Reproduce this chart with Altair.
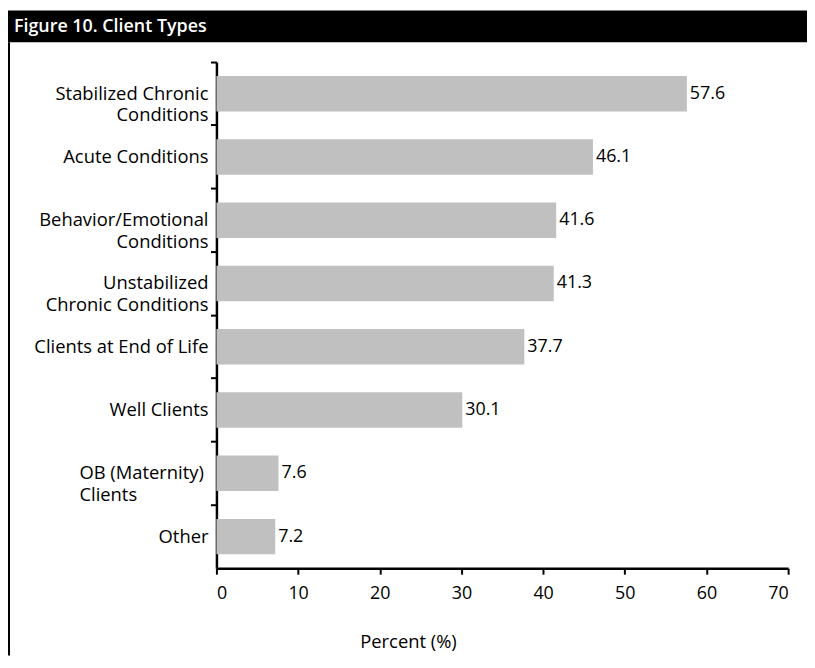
import altair as alt
import pandas as pd

categories = [
    "Stabilized Chronic\nConditions",
    "Acute Conditions",
    "Behavior/Emotional\nConditions",
    "Unstabilized\nChronic Conditions",
    "Clients at End of Life",
    "Well Clients",
    "OB (Maternity)\nClients",
    "Other",
]
values = [57.6, 46.1, 41.6, 41.3, 37.7, 30.1, 7.6, 7.2]
x_ticks = [0, 10, 20, 30, 40, 50, 60, 70]
title_text = "Figure 10. Client Types"
x_title = "Percent (%)"

FONT = "Open Sans"
FS = 18
FS_CAT = 18.5
W, H = 576, 510
PAD_L, PAD_T = 210, 52
SVG_W, SVG_H = 805, 650

df = pd.DataFrame({"category": categories, "value": values})

y_enc = alt.Y(
    "category:N",
    sort=None,
    scale=alt.Scale(paddingInner=0, paddingOuter=0),
    axis=alt.Axis(
        title=None,
        labels=False,
        bandPosition=0,
        tickSize=6,
        tickWidth=2,
        tickColor="black",
        domainColor="black",
        domainWidth=2.5,
        grid=False,
    ),
)
x_enc = alt.X(
    "value:Q",
    scale=alt.Scale(domain=[0, 70], nice=False),
    axis=alt.Axis(
        values=x_ticks,
        title=x_title,
        titleFont=FONT,
        titleFontSize=FS_CAT,
        titleFontWeight="normal",
        titleColor="black",
        titleX=193,
        titleY=80,
        titleAnchor="start",
        titleAlign="center",
        titleBaseline="alphabetic",
        labelFont=FONT,
        labelFontSize=FS,
        labelColor="black",
        labelPadding=19,
        labelBaseline="middle",
        tickSize=6,
        tickWidth=2,
        tickColor="black",
        domainColor="black",
        domainWidth=2.5,
        grid=False,
    ),
)

base = alt.Chart(df)

bars = base.mark_bar(color="#c0c0c0", height=alt.RelativeBandSize(0.56)).encode(x=x_enc, y=y_enc)

value_labels = base.mark_text(
    align="left", baseline="middle", dx=3, font=FONT, fontSize=FS, color="black"
).encode(x="value:Q", y=alt.Y("category:N", sort=None), text=alt.Text("value:Q", format=".1f"))

cat_labels_right = (
    base.transform_filter("indexof(datum.category, 'OB (') < 0")
    .mark_text(align="right", baseline="middle", font=FONT, fontSize=FS_CAT,
               color="black", lineBreak="\n", lineHeight=22)
    .encode(x=alt.value(-8), y=alt.Y("category:N", sort=None), text="category:N")
)
cat_labels_left = (
    base.transform_filter("indexof(datum.category, 'OB (') >= 0")
    .mark_text(align="left", baseline="middle", font=FONT, fontSize=FS_CAT,
               color="black", lineBreak="\n", lineHeight=22)
    .encode(x=alt.value(-138), y=alt.Y("category:N", sort=None), text="category:N")
)

header = alt.Chart(pd.DataFrame({"t": [title_text]})).mark_rect(color="black").encode(
    x=alt.value(-PAD_L), x2=alt.value(SVG_W - PAD_L),
    y=alt.value(-PAD_T), y2=alt.value(-20),
)
header_text = alt.Chart(pd.DataFrame({"t": [title_text]})).mark_text(
    align="left", baseline="alphabetic", font=FONT, fontSize=18,
    fontWeight=600, color="white"
).encode(x=alt.value(-204), y=alt.value(-30), text="t:N")

left_border = alt.Chart(pd.DataFrame({"t": [1]})).mark_rule(color="black", strokeWidth=2).encode(
    x=alt.value(-PAD_L + 1), y=alt.value(-20), y2=alt.value(SVG_H - PAD_T),
)

chart = (
    alt.layer(header, header_text, left_border, bars, value_labels, cat_labels_right, cat_labels_left)
    .properties(
        width=W,
        height=H,
        autosize=alt.AutoSizeParams(type="none"),
        padding={"left": PAD_L, "top": PAD_T, "right": SVG_W - PAD_L - W, "bottom": SVG_H - PAD_T - H},
        background="white",
    )
    .configure_view(stroke=None)
)

chart.save("out.html", embed_options={"renderer": "svg", "actions": False})
